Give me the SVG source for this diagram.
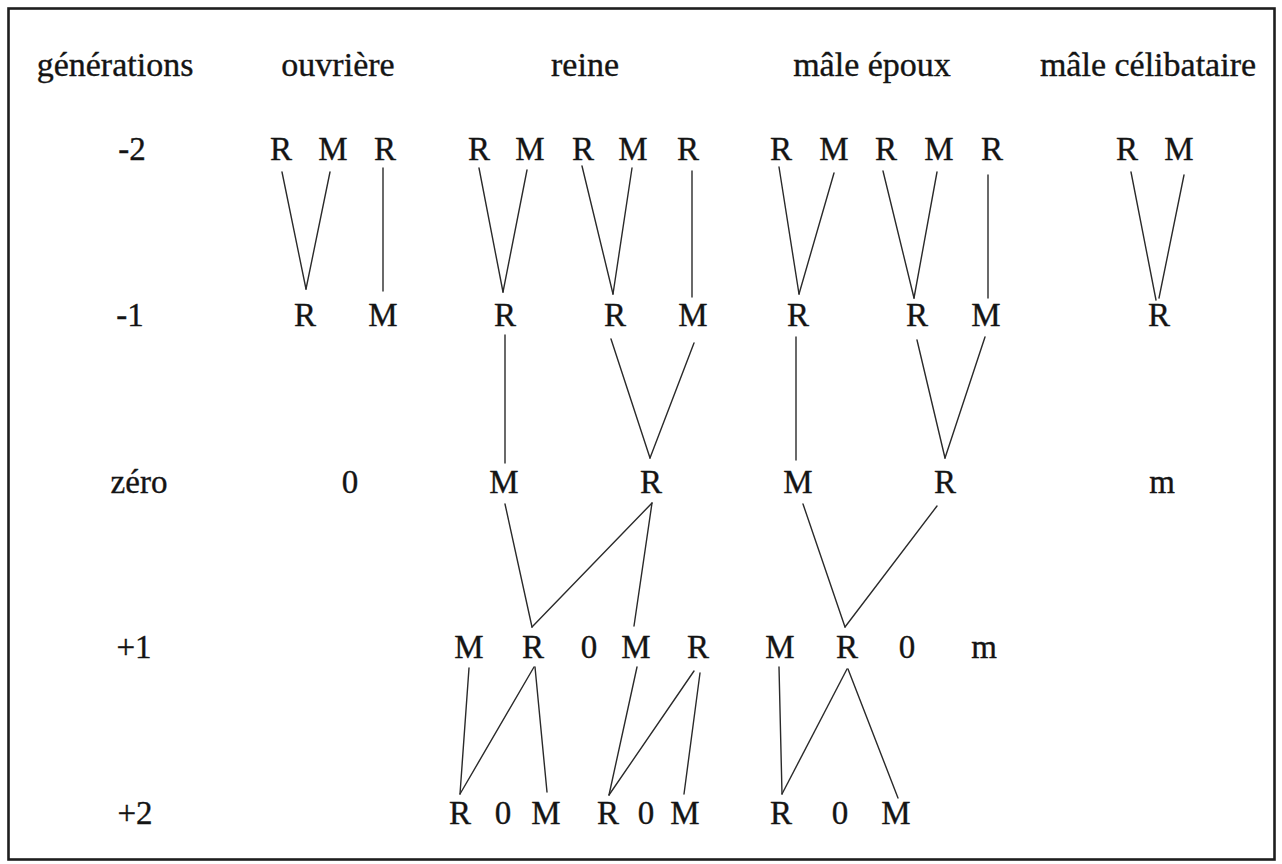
<svg xmlns="http://www.w3.org/2000/svg" width="1282" height="864" viewBox="0 0 1282 864">
  <style>
    .t { font-family: "Liberation Serif", "Times New Roman", serif; fill: #141414; stroke: #141414; stroke-width: 0.35; text-anchor: middle; }
    .h { font-size: 34px; }
    .n { font-size: 33px; }
    .c line { stroke: #2a2a2a; stroke-width: 1.4; stroke-linecap: round; }
  </style>
  <rect width="1282" height="864" fill="#ffffff"/>
  <!-- outer frame -->
  <rect x="8.5" y="8.5" width="1266" height="851" fill="none" stroke="#1e1e1e" stroke-width="2.6"/>

  <!-- column headings -->
  <g id="headings" class="t h">
    <text x="115" y="76">générations</text>
    <text x="338" y="76">ouvrière</text>
    <text x="585" y="76">reine</text>
    <text x="872" y="76">mâle époux</text>
    <text x="1148" y="76">mâle célibataire</text>
  </g>

  <!-- generation labels -->
  <g id="gen-labels" class="t n">
    <text x="132" y="160">-2</text>
    <text x="130" y="326">-1</text>
    <text x="139" y="493">zéro</text>
    <text x="134" y="658">+1</text>
    <text x="135" y="824">+2</text>
  </g>

  <!-- connectors between individuals -->
  <g id="connectors" class="c">
    <!-- -2 to -1 -->
    <line x1="282" y1="172" x2="306" y2="289"/>
    <line x1="330" y1="172" x2="306" y2="289"/>
    <line x1="383" y1="168" x2="383" y2="291"/>
    <line x1="479" y1="168" x2="503" y2="292"/>
    <line x1="527" y1="170" x2="503" y2="292"/>
    <line x1="582" y1="166" x2="613" y2="294"/>
    <line x1="632" y1="168" x2="613" y2="294"/>
    <line x1="692" y1="171" x2="692" y2="297"/>
    <line x1="779" y1="167" x2="799" y2="294"/>
    <line x1="834" y1="173" x2="799" y2="294"/>
    <line x1="883" y1="171" x2="914" y2="298"/>
    <line x1="937" y1="172" x2="914" y2="298"/>
    <line x1="988" y1="175" x2="988" y2="298"/>
    <line x1="1131" y1="172" x2="1156" y2="300"/>
    <line x1="1184" y1="175" x2="1159" y2="298"/>
    <!-- -1 to zero -->
    <line x1="505" y1="335" x2="505" y2="463"/>
    <line x1="611" y1="339" x2="650" y2="458"/>
    <line x1="694" y1="343" x2="650" y2="458"/>
    <line x1="796" y1="337" x2="796" y2="460"/>
    <line x1="917" y1="340" x2="945" y2="458"/>
    <line x1="985" y1="337" x2="945" y2="458"/>
    <!-- zero to +1 -->
    <line x1="505" y1="504" x2="532" y2="627"/>
    <line x1="652" y1="503" x2="532" y2="627"/>
    <line x1="652" y1="503" x2="634" y2="626"/>
    <line x1="803" y1="504" x2="845" y2="627"/>
    <line x1="937" y1="506" x2="845" y2="627"/>
    <!-- +1 to +2 -->
    <line x1="469" y1="668" x2="460" y2="794"/>
    <line x1="534" y1="667" x2="460" y2="794"/>
    <line x1="535" y1="667" x2="547" y2="792"/>
    <line x1="637" y1="667" x2="609" y2="795"/>
    <line x1="694" y1="671" x2="609" y2="795"/>
    <line x1="700" y1="673" x2="684" y2="794"/>
    <line x1="779" y1="667" x2="782" y2="794"/>
    <line x1="847" y1="669" x2="782" y2="794"/>
    <line x1="848" y1="669" x2="898" y2="798"/>
  </g>

  <!-- ouvrière -->
  <g id="ouvriere" class="t n">
    <text x="281" y="160">R</text>
    <text x="333" y="160">M</text>
    <text x="385" y="160">R</text>
    <text x="305" y="326">R</text>
    <text x="383" y="326">M</text>
    <text x="350" y="493">0</text>
  </g>

  <!-- reine -->
  <g id="reine" class="t n">
    <text x="479" y="160">R</text>
    <text x="530" y="160">M</text>
    <text x="583" y="160">R</text>
    <text x="633" y="160">M</text>
    <text x="688" y="160">R</text>
    <text x="505" y="326">R</text>
    <text x="615" y="326">R</text>
    <text x="693" y="326">M</text>
    <text x="504" y="493">M</text>
    <text x="651" y="493">R</text>
    <text x="469" y="658">M</text>
    <text x="533" y="658">R</text>
    <text x="589" y="658">0</text>
    <text x="636" y="658">M</text>
    <text x="698" y="658">R</text>
    <text x="460" y="824">R</text>
    <text x="503" y="824">0</text>
    <text x="546" y="824">M</text>
    <text x="608" y="824">R</text>
    <text x="646" y="824">0</text>
    <text x="685" y="824">M</text>
  </g>

  <!-- mâle époux -->
  <g id="male-epoux" class="t n">
    <text x="781" y="160">R</text>
    <text x="834" y="160">M</text>
    <text x="886" y="160">R</text>
    <text x="939" y="160">M</text>
    <text x="992" y="160">R</text>
    <text x="798" y="326">R</text>
    <text x="917" y="326">R</text>
    <text x="986" y="326">M</text>
    <text x="798" y="493">M</text>
    <text x="945" y="493">R</text>
    <text x="780" y="658">M</text>
    <text x="847" y="658">R</text>
    <text x="907" y="658">0</text>
    <text x="984" y="658">m</text>
    <text x="781" y="824">R</text>
    <text x="840" y="824">0</text>
    <text x="896" y="824">M</text>
  </g>

  <!-- mâle célibataire -->
  <g id="male-celibataire" class="t n">
    <text x="1127" y="160">R</text>
    <text x="1179" y="160">M</text>
    <text x="1159" y="326">R</text>
    <text x="1162" y="493">m</text>
  </g>
</svg>
